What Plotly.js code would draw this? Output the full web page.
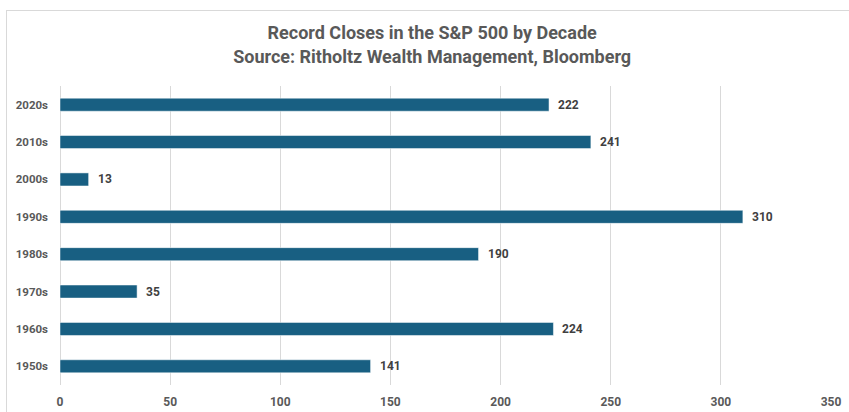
<!DOCTYPE html>
<html>
<head>
<meta charset="utf-8">
<script src="https://cdn.plot.ly/plotly-3.0.1.min.js"></script>
<style>
  html, body { margin: 0; padding: 0; background: #fff; }
  #wrap  { position: relative; width: 849px; height: 412px; }
  #chart { width: 849px; height: 412px; }
  /* thin chart-frame edge visible at the top and left of the reference */
  #frame { position: absolute; left: 6px; top: 10px; right: -4px; bottom: -4px;
           border-top: 1.5px solid #d9d9d9; border-left: 1.5px solid #d9d9d9;
           pointer-events: none; }
</style>
</head>
<body>
<div id="wrap">
  <div id="chart"></div>
  <div id="frame"></div>
</div>
<script>
// data (bottom to top)
const decades = ["1950s", "1960s", "1970s", "1980s", "1990s", "2000s", "2010s", "2020s"];
const recordCloses = [141, 224, 35, 190, 310, 13, 241, 222];
const xTicks = [0, 50, 100, 150, 200, 250, 300, 350];

const barColor  = "#185f82";
const gridColor = "#d9d9d9";
const textColor = "#595959";
const narrow    = "'Liberation Sans Narrow', 'Arial Narrow', Roboto, sans-serif";

const trace = {
    type        : "bar",
    orientation : "h",
    x           : recordCloses,
    y           : decades,
    marker      : { color: barColor, line: { color: "#ffffff", width: 0.5 } },
    hoverinfo   : "x+y"
};

// value labels placed just right of each bar end
const valueLabels = decades.map((d, i) => ({
    x: recordCloses[i], y: d, xref: "x", yref: "y",
    text: String(recordCloses[i]),
    showarrow: false, xanchor: "left", xshift: 7,
    font: { family: narrow, size: 12, color: "#404040", weight: "bold" }
}));

const layout = {
    width  : 849,
    height : 412,
    margin : { l: 60, r: 18, t: 86, b: 27 },
    paper_bgcolor: "#ffffff",
    plot_bgcolor : "#ffffff",
    bargap : 0.65,
    showlegend: false,
    title : {
        text : "Record Closes in the S&P 500 by Decade<br>Source: Ritholtz Wealth Management, Bloomberg",
        font : { family: "Roboto, 'Open Sans', sans-serif", size: 18, color: textColor, weight: "bold" },
        x : 0.509, xref: "container", xanchor: "center",
        y : 0.905, yref: "container", yanchor: "top"
    },
    xaxis : {
        range     : [0, 350],
        tickvals  : xTicks,
        ticktext  : xTicks.map(String),
        showgrid  : true,
        gridcolor : gridColor,
        gridwidth : 1,
        zeroline  : true,
        zerolinecolor: gridColor,
        zerolinewidth: 1,
        showline  : false,
        ticks     : "",
        ticklabelstandoff: 8,
        tickfont  : { family: narrow, size: 12, color: textColor, weight: "bold" },
        fixedrange: true
    },
    yaxis : {
        type      : "category",
        categoryorder: "array",
        categoryarray: decades,
        showgrid  : false,
        zeroline  : false,
        showline  : false,
        ticks     : "",
        ticklabelstandoff: 11,
        tickfont  : { family: narrow, size: 11.5, color: textColor, weight: "bold" },
        fixedrange: true
    },
    annotations: valueLabels
};

Plotly.newPlot("chart", [trace], layout, { displayModeBar: false, staticPlot: true });
</script>
</body>
</html>
